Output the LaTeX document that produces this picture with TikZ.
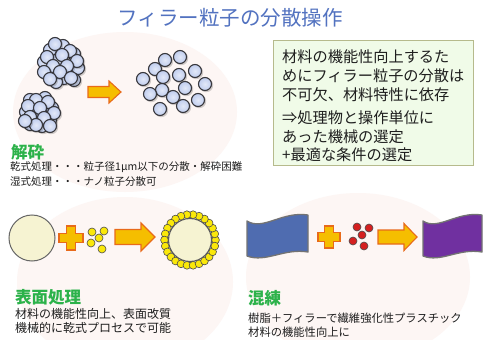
\documentclass[tikz,border=0pt]{standalone}
\usepackage{fontspec}
\setmainfont{Noto Sans CJK JP}
\usetikzlibrary{calc}

\definecolor{bgpink}{RGB}{253,246,244}
\definecolor{titleblue}{RGB}{82,114,192}
\definecolor{headgreen}{RGB}{44,178,74}
\definecolor{txtdark}{RGB}{30,30,30}
\definecolor{boxfill}{RGB}{240,251,232}
\definecolor{boxline}{RGB}{182,186,140}
\definecolor{pfill}{RGB}{192,205,238}
\definecolor{pline}{RGB}{55,55,60}
\definecolor{creamfill}{RGB}{246,243,210}
\definecolor{ballyellow}{RGB}{250,232,10}
\definecolor{ballred}{RGB}{212,32,32}
\definecolor{flagblue}{RGB}{79,108,176}
\definecolor{flagpurple}{RGB}{112,48,160}
\definecolor{arrowfill}{RGB}{245,190,0}
\definecolor{arrowline}{RGB}{232,106,26}

% block arrow: x-start, x-end, y-centre, body half height, head half height, head length
\newcommand\blkarrow[6]{%
  \draw[arrowshape] (#1,#3-#4) -- (#2-#6,#3-#4) -- (#2-#6,#3-#5) -- (#2,#3)
    -- (#2-#6,#3+#5) -- (#2-#6,#3+#4) -- (#1,#3+#4) -- cycle;}
% plus sign: x-centre, y-centre, half length, half arm width
\newcommand\plusmark[4]{%
  \draw[arrowshape] (#1-#4,#2-#3) -- (#1+#4,#2-#3) -- (#1+#4,#2-#4) -- (#1+#3,#2-#4)
    -- (#1+#3,#2+#4) -- (#1+#4,#2+#4) -- (#1+#4,#2+#3) -- (#1-#4,#2+#3)
    -- (#1-#4,#2+#4) -- (#1-#3,#2+#4) -- (#1-#3,#2-#4) -- (#1-#4,#2-#4) -- cycle;}
% one filler particle with a soft shadow
\newcommand\particle[2]{%
  \fill[black, opacity=0.18] (#1+1.2,#2+1.2) circle (7pt);
  \shade[inner color=pfill!45!white, outer color=pfill] (#1,#2) circle (6.5pt);
  \draw[pline, line width=1.1pt] (#1,#2) circle (6.5pt);}

\tikzset{
  bgblob/.style={fill=bgpink},
  arrowshape/.style={fill=arrowfill, draw=arrowline, line width=1.1pt, line join=miter},
  yball/.style={fill=ballyellow, draw=black!70, line width=0.6pt},
  rball/.style={fill=ballred, draw=black!70, line width=0.6pt},
  flagstyle/.style={draw=black!55, line width=1.3pt, line join=round},
  heading/.style={anchor=west, text=headgreen, font=\fontsize{16.5}{18}\selectfont\bfseries, inner sep=0pt},
  desc/.style={anchor=west, text=txtdark, font=\fontsize{10.5}{13}\selectfont, inner sep=0pt},
  descl/.style={anchor=west, text=txtdark, font=\fontsize{12}{13}\selectfont, inner sep=0pt},
  descr/.style={anchor=west, text=txtdark, font=\fontsize{11.3}{13}\selectfont, inner sep=0pt},
  boxline/.style={anchor=west, text=txtdark, font=\fontsize{15.2}{17}\selectfont, inner sep=0pt},
}

\begin{document}
\begin{tikzpicture}[x=1pt, y=-1pt]
\useasboundingbox (0,0) rectangle (483,340);
\fill[white] (0,0) rectangle (483,340);

% pale background blobs
\fill[bgblob] (125,112) ellipse [x radius=112pt, y radius=80pt];
\fill[bgblob] (125,282) ellipse [x radius=108pt, y radius=85pt];
\fill[bgblob] (358,277) ellipse [x radius=112pt, y radius=84pt];

% title
\node[text=titleblue, font=\fontsize{20.5}{22}\selectfont, inner sep=0pt] (title) at (230,18) {フィラー粒子の分散操作};

% agglomerates
\foreach \x/\y in {50/50,63/46,74/54,44/62,58/60,78/68,48/74,64/78,74/80,56/82}
  {\particle{\x}{\y}}
\foreach \x/\y in {55/44,70/51,47/57,62/55,77/61,53/66,67/66,44/72,60/72,50/79,71/78}
  {\particle{\x}{\y}}
\foreach \x/\y in {30/100,45/98,52/108,26/112,38/110,50/120,30/124,42/126}
  {\particle{\x}{\y}}
\foreach \x/\y in {36/100,48/102,28/106,40/108,54/113,30/117,44/118,36/125,50/126,25/121}
  {\particle{\x}{\y}}

\blkarrow{88}{121}{92}{5.5}{11}{12}

% dispersed particles
\foreach \x/\y in {165/60,180/57,155/69,195/71,163/77,179/75,143/79,205/84,185/88,162/90,150/94,173/97,198/100,183/106,160/109}
  {\particle{\x}{\y}}

% info box
\node[draw=boxline, fill=boxfill, line width=1pt, minimum width=200pt, minimum height=125pt, anchor=north west, inner sep=0pt] (infobox) at (273,40) {};
\node[boxline] (b1) at (282,57) {材料の機能性向上するた};
\node[boxline] (b2) at (282,76) {めにフィラー粒子の分散は};
\node[boxline] (b3) at (282,95) {不可欠、材料特性に依存};
\node[boxline] (b4) at (282,118) {⇒処理物と操作単位に};
\node[boxline] (b5) at (282,137) {あった機械の選定};
\node[boxline] (b6) at (282,155) {+最適な条件の選定};

% crushing text
\node[heading] (h1) at (11,152) {解砕};
\node[desc] (d1) at (10,167) {乾式処理・・・粒子径1μm以下の分散・解砕困難};
\node[desc] (d2) at (10,182) {湿式処理・・・ナノ粒子分散可};

% surface treatment row
\draw[fill=creamfill, draw=black!60, line width=1pt] (32,238) circle (23pt);
\plusmark{71}{238}{12}{4.5}
\foreach \x/\y in {92/232,104/231,99/238,91/243,102/249}
  {\draw[yball] (\x,\y) circle (4pt);}
\blkarrow{115}{155}{237}{7.5}{14}{14}
\begin{scope}[shift={(190,240)}]
  \foreach \a in {0,13.85,...,359}
    {\draw[yball] (\a:25.5pt) circle (3.9pt);}
  \draw[fill=creamfill, draw=black!65, line width=1.1pt] (0,0) circle (21.5pt);
\end{scope}
\node[heading] (h2) at (15,297) {表面処理};
\node[descl] (d3) at (15,314) {材料の機能性向上、表面改質};
\node[descl] (d4) at (15,328) {機械的に乾式プロセスで可能};

% kneading row
\draw[flagstyle, fill=flagblue] (247,221) .. controls (263,231) and (282,211) .. (308,215)
  -- (308,252) .. controls (284,248) and (266,263) .. (247,256) -- cycle;
\plusmark{329}{237}{11}{4.2}
\foreach \x/\y in {357/227,369/228,362/235,353/241,364/246}
  {\draw[rball] (\x,\y) circle (4pt);}
\blkarrow{378}{417}{237}{7}{13.5}{13}
\draw[flagstyle, fill=flagpurple] (423,221) .. controls (438,231) and (457,211) .. (482,215)
  -- (482,252) .. controls (458,248) and (441,263) .. (423,256) -- cycle;
\node[heading] (h3) at (248,298) {混練};
\node[descr] (d5) at (248,318) {樹脂＋フィラーで繊維強化性プラスチック};
\node[descr] (d6) at (248,332) {材料の機能性向上に};
\end{tikzpicture}
\end{document}
